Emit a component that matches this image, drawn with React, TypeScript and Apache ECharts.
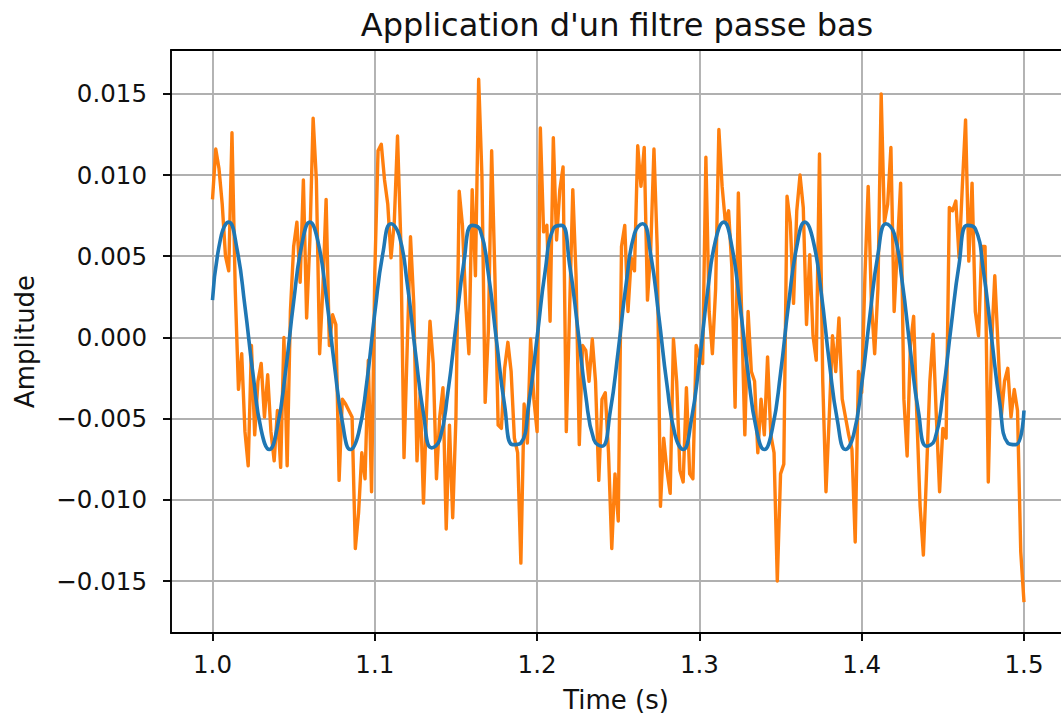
import React, { useEffect, useRef } from 'react';
import * as echarts from 'echarts';

const TITLE = "Application d'un filtre passe bas";
const X_NAME = 'Time (s)';
const Y_NAME = 'Amplitude';
const X_TICKS = [1.0, 1.1, 1.2, 1.3, 1.4, 1.5];
const Y_TICKS = [-0.015, -0.01, -0.005, 0, 0.005, 0.01, 0.015];

const T_START = 1.0;
const NOISY_DT = 0.002;
const FILTERED_DT = 0.005;

// Noisy signal (orange), one value every 2 ms
const noisy_1_0 = [
  0.0085, 0.0116, 0.0104, 0.0082, 0.0050, 0.0041, 0.0126, 0.0030, -0.0032, -0.0010,
  -0.0058, -0.0079, -0.0005, -0.0060, -0.0027, -0.0016, -0.0049, -0.0023, -0.0058, -0.0076,
  -0.0045, -0.0080, 0.0000, -0.0079, 0.0016, 0.0056, 0.0071, 0.0034, 0.0097, 0.0012,
  0.0060, 0.0135, 0.0097, -0.0010, 0.0030, 0.0085, -0.0005, 0.0014, 0.0008, -0.0088,
  -0.0038, -0.0041, -0.0045, -0.0049, -0.0130, -0.0108, -0.0071, -0.0087, -0.0014, -0.0095,
];
const noisy_1_1 = [
  0.0040, 0.0115, 0.0119, 0.0097, 0.0082, 0.0049, 0.0071, 0.0124, 0.0060, -0.0074,
  -0.0005, 0.0062, 0.0021, -0.0076, -0.0034, -0.0102, -0.0041, 0.0010, -0.0016, -0.0087,
  -0.0049, -0.0031, -0.0118, -0.0054, -0.0111, -0.0049, 0.0090, 0.0069, 0.0021, -0.0010,
  0.0091, 0.0038, 0.0159, 0.0100, -0.0040, 0.0005, 0.0115, 0.0038, -0.0054, -0.0056,
  -0.0019, -0.0003, -0.0021, -0.0062, -0.0071, -0.0139, -0.0041, -0.0065, -0.0001, -0.0038,
];
const noisy_1_2 = [
  -0.0058, 0.0129, 0.0065, 0.0069, 0.0010, 0.0123, 0.0060, 0.0091, 0.0105, -0.0058,
  0.0016, 0.0091, 0.0038, -0.0066, -0.0005, -0.0008, -0.0027, -0.0001, -0.0027, -0.0088,
  -0.0038, -0.0034, -0.0071, -0.0130, -0.0084, -0.0113, 0.0056, 0.0069, 0.0016, 0.0049,
  0.0041, 0.0118, 0.0093, 0.0117, 0.0023, 0.0054, 0.0116, 0.0056, -0.0104, -0.0062,
  -0.0082, -0.0096, -0.0001, -0.0027, -0.0082, -0.0089, -0.0031, -0.0084, -0.0087, -0.0005,
];
const noisy_1_3 = [
  -0.0012, -0.0016, 0.0111, 0.0016, -0.0010, 0.0030, 0.0128, 0.0093, 0.0071, 0.0078,
  0.0043, -0.0043, 0.0089, 0.0016, -0.0060, 0.0016, -0.0021, -0.0027, -0.0071, -0.0038,
  -0.0060, -0.0012, -0.0060, -0.0071, -0.0150, -0.0084, -0.0078, 0.0087, 0.0071, 0.0021,
  0.0078, 0.0100, 0.0080, 0.0008, 0.0051, 0.0001, -0.0014, 0.0113, -0.0027, -0.0095,
  -0.0049, 0.0001, -0.0021, 0.0012, -0.0038, -0.0049, -0.0060, -0.0069, -0.0126, -0.0021,
];
const noisy_1_4 = [
  -0.0034, 0.0038, 0.0093, 0.0021, -0.0010, 0.0030, 0.0150, 0.0071, 0.0082, 0.0117,
  0.0016, 0.0056, 0.0095, -0.0038, -0.0073, -0.0005, 0.0013, -0.0049, -0.0104, -0.0134,
  -0.0082, -0.0027, 0.0002, -0.0049, -0.0095, -0.0056, -0.0062, 0.0080, 0.0078, 0.0084,
  0.0049, 0.0093, 0.0134, 0.0047, 0.0095, 0.0016, 0.0001, 0.0056, 0.0056, -0.0089,
  -0.0005, 0.0038, -0.0005, -0.0049, -0.0027, -0.0019, -0.0049, -0.0032, -0.0045, -0.0132,
  -0.0163,
];

// Filtered signal (blue), one value every 5 ms
const filtered = [
  0.0023, 0.0061, 0.0071, 0.0055, 0.0019, -0.0023, -0.0057, -0.0069, -0.0055, -0.0021,
  0.0022, 0.0057, 0.0071, 0.0059, 0.0026, -0.0016, -0.0052, -0.0069, -0.0059, -0.0028,
  0.0015, 0.0052, 0.0070, 0.0063, 0.0033, -0.0009, -0.0047, -0.0068, -0.0063, -0.0034,
  0.0007, 0.0047, 0.0069, 0.0066, 0.0039, -0.0002, -0.0042, -0.0066, -0.0065, -0.0040,
  0.0000, 0.0041, 0.0067, 0.0069, 0.0045, 0.0006, -0.0036, -0.0063, -0.0067, -0.0046,
  -0.0008, 0.0034, 0.0064, 0.0070, 0.0051, 0.0013, -0.0029, -0.0060, -0.0069, -0.0051,
  -0.0015, 0.0028, 0.0060, 0.0071, 0.0056, 0.0020, -0.0022, -0.0056, -0.0069, -0.0056,
  -0.0022, 0.0021, 0.0056, 0.0071, 0.0060, 0.0028, -0.0015, -0.0051, -0.0069, -0.0060,
  -0.0029, 0.0013, 0.0051, 0.0070, 0.0064, 0.0034, -0.0008, -0.0046, -0.0067, -0.0063,
  -0.0035, 0.0006, 0.0045, 0.0069, 0.0067, 0.0041, 0.0000, -0.0040, -0.0065, -0.0066,
  -0.0045,
];

const FONT = 'DejaVu Sans';
const X_MIN = 0.97443;
const X_MAX = 1.5228;
const Y_MIN = -0.0182;
const Y_MAX = 0.0177;

export default function App() {
  const ref = useRef<HTMLDivElement>(null);

  useEffect(() => {
    if (!ref.current) return;
    const chart = echarts.init(ref.current, undefined, { renderer: 'svg' });

    const noisy = [...noisy_1_0, ...noisy_1_1, ...noisy_1_2, ...noisy_1_3, ...noisy_1_4];
    const noisyData = noisy.map((v, i) => [T_START + i * NOISY_DT, v]);
    const filteredData = filtered.map((v, i) => [T_START + i * FILTERED_DT, v]);

    const spine = { color: '#000', width: 1.9 };
    const tickFont = { fontFamily: FONT, fontSize: 24.5, color: '#111' };
    const nameFont = { fontFamily: FONT, fontSize: 26, color: '#111' };

    chart.setOption({
      animation: false,
      backgroundColor: '#ffffff',
      grid: { left: 171, right: 0, top: 50, bottom: 92, show: false },
      xAxis: [
        {
          type: 'value',
          min: X_MIN,
          max: X_MAX,
          name: X_NAME,
          nameLocation: 'middle',
          nameGap: 54,
          nameTextStyle: nameFont,
          axisLine: { show: true, onZero: false, lineStyle: spine },
          axisTick: { show: true, customValues: X_TICKS, length: 8, lineStyle: spine },
          axisLabel: {
            customValues: X_TICKS,
            margin: 19,
            formatter: (v: number) => v.toFixed(1),
            ...tickFont,
          },
          splitLine: { show: true, lineStyle: { color: '#b0b0b0', width: 1.9 } },
        },
        {
          type: 'value',
          position: 'top',
          min: X_MIN,
          max: X_MAX,
          axisLine: { show: true, onZero: false, lineStyle: spine },
          axisTick: { show: false },
          axisLabel: { show: false },
          splitLine: { show: false },
        },
      ],
      yAxis: {
        type: 'value',
        min: Y_MIN,
        max: Y_MAX,
        name: Y_NAME,
        nameLocation: 'middle',
        nameGap: 133,
        nameRotate: 90,
        nameTextStyle: nameFont,
        axisLine: { show: true, onZero: false, lineStyle: spine },
        axisTick: { show: true, customValues: Y_TICKS, length: 8, lineStyle: spine },
        axisLabel: {
          customValues: Y_TICKS,
          margin: 24,
          formatter: (v: number) => v.toFixed(3).replace('-', '\u2212'),
          ...tickFont,
        },
        splitLine: { show: true, lineStyle: { color: '#b0b0b0', width: 1.9 } },
      },
      series: [
        {
          type: 'line',
          xAxisIndex: 0,
          data: noisyData,
          symbol: 'none',
          lineStyle: { color: '#ff7f0e', width: 3.4, join: 'round' },
          z: 2,
        },
        {
          type: 'line',
          xAxisIndex: 0,
          data: filteredData,
          smooth: true,
          symbol: 'none',
          lineStyle: { color: '#1f77b4', width: 3.6, join: 'round' },
          z: 3,
        },
      ],
      graphic: [
        {
          type: 'text',
          x: 617,
          y: 25,
          style: {
            text: TITLE,
            fontFamily: FONT,
            fontSize: 32,
            fill: '#111',
            align: 'center',
            verticalAlign: 'middle',
          },
        },
      ],
    });

    return () => chart.dispose();
  }, []);

  return (
    <div
      ref={ref}
      style={{ position: 'fixed', left: 0, top: 0, width: 1061, height: 725, background: '#fff' }}
    />
  );
}
